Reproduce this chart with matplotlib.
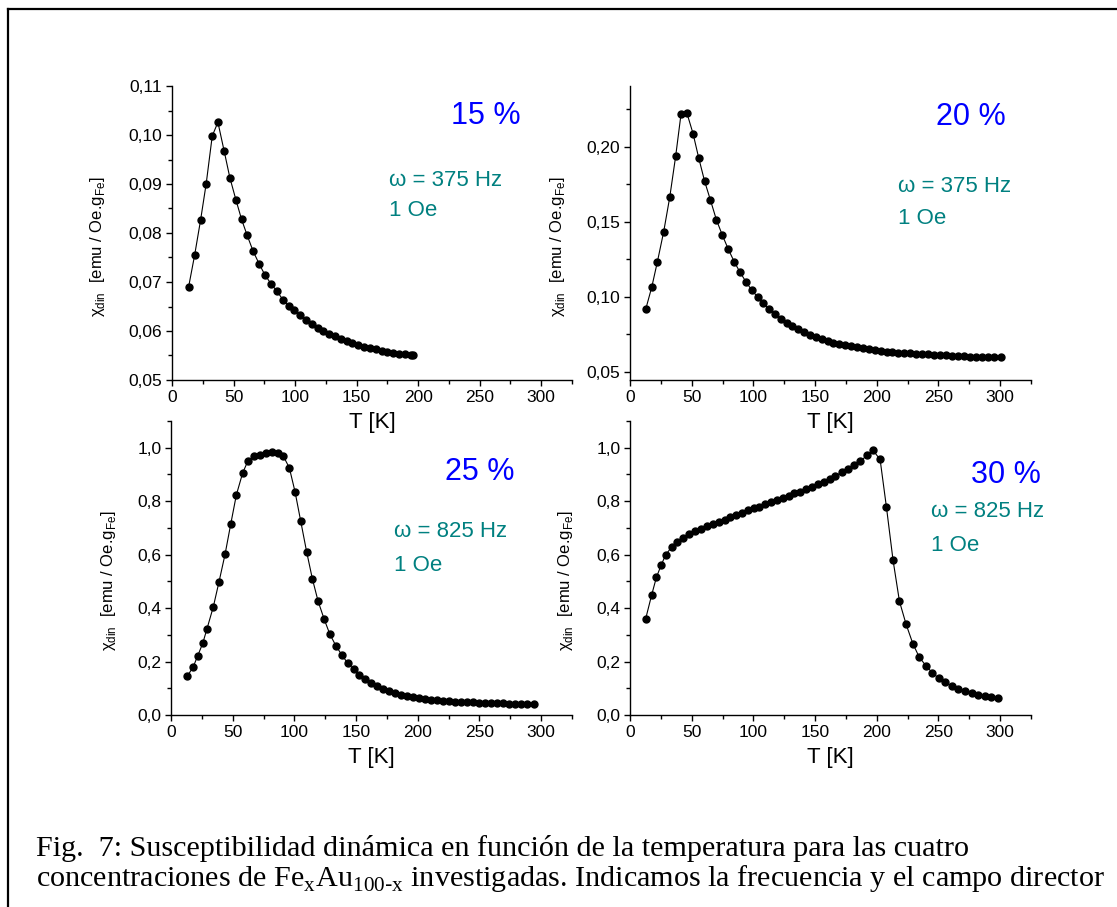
import matplotlib
matplotlib.use('Agg')
import matplotlib.pyplot as plt
from matplotlib.ticker import MultipleLocator, FuncFormatter
from matplotlib.lines import Line2D

plt.rcParams['font.family'] = ['Liberation Sans', 'DejaVu Sans']

# 15 % Fe
t15 = [13.5, 18.4, 23.2, 27.8, 32.7, 37.3, 42.4, 47.0, 51.9, 56.5, 61.1, 65.9, 70.8, 75.4,
       80.5, 85.4, 90.0, 94.9, 99.5, 104.0, 109.0, 113.5, 118.4, 123.0, 127.6, 132.4, 137.3,
       141.9, 146.5, 151.4, 156.0, 160.8, 165.7, 170.3, 175.0, 179.7, 184.6, 189.2, 193.8, 196.2]
chi15 = [0.0690, 0.0755, 0.0826, 0.0901, 0.0998, 0.1026, 0.0967, 0.0913, 0.0868, 0.0828,
         0.0795, 0.0763, 0.0737, 0.0715, 0.0696, 0.0681, 0.0664, 0.0651, 0.0642, 0.0632,
         0.0623, 0.0615, 0.0606, 0.0600, 0.0594, 0.0589, 0.0584, 0.0580, 0.0575, 0.0572,
         0.0568, 0.0565, 0.0563, 0.0560, 0.0558, 0.0556, 0.0554, 0.0553, 0.0552, 0.0551]

# 20 % Fe
t20 = [12.7, 17.6, 22.2, 27.3, 32.2, 37.0, 41.4, 46.2, 51.1, 55.7, 60.5, 65.1, 70.0, 74.9,
       79.7, 84.6, 89.2, 94.1, 98.6, 103.5, 108.1, 112.7, 117.6, 122.2, 127.0, 131.6, 136.5,
       141.1, 145.9, 150.5, 155.4, 160.3, 164.9, 169.7, 174.6, 179.2, 184.0, 188.9, 193.8,
       198.6, 203.2, 208.1, 212.7, 217.6, 222.2, 227.0, 231.9, 236.8, 241.6, 246.5, 251.4,
       256.2, 261.1, 265.7, 270.5, 275.4, 280.3, 285.1, 290.0, 294.9, 300.5]
chi20 = [0.0917, 0.1064, 0.1234, 0.1434, 0.1663, 0.1936, 0.2220, 0.2222, 0.2087, 0.1925,
         0.1769, 0.1647, 0.1514, 0.1410, 0.1317, 0.1232, 0.1164, 0.1099, 0.1046, 0.0999,
         0.0957, 0.0917, 0.0886, 0.0855, 0.0829, 0.0804, 0.0784, 0.0764, 0.0746, 0.0731,
         0.0718, 0.0706, 0.0695, 0.0686, 0.0678, 0.0671, 0.0664, 0.0658, 0.0651, 0.0647,
         0.0642, 0.0635, 0.0633, 0.0629, 0.0627, 0.0624, 0.0622, 0.0620, 0.0618, 0.0615,
         0.0613, 0.0611, 0.0609, 0.0607, 0.0604, 0.0602, 0.0602, 0.0600, 0.0598, 0.0598, 0.0598]

# 25 % Fe
t25 = [13.2, 18.1, 21.6, 25.7, 29.2, 34.3, 38.9, 43.8, 48.4, 53.0, 58.1, 62.4, 67.3, 72.4,
       77.3, 81.9, 86.5, 91.1, 95.9, 100.5, 105.1, 110.0, 114.6, 119.2, 124.1, 128.6, 133.5,
       138.4, 143.2, 148.1, 152.7, 157.6, 162.4, 167.3, 172.2, 177.0, 181.9, 186.8, 191.6,
       196.5, 201.4, 206.2, 211.1, 215.9, 220.8, 225.4, 230.3, 235.1, 240.0, 244.9, 249.7,
       254.6, 259.5, 264.3, 269.2, 274.1, 278.9, 283.8, 288.6, 293.8]
chi25 = [0.145, 0.181, 0.221, 0.268, 0.323, 0.405, 0.498, 0.601, 0.714, 0.824, 0.906, 0.951,
         0.970, 0.974, 0.979, 0.983, 0.980, 0.968, 0.925, 0.836, 0.726, 0.609, 0.509, 0.426,
         0.359, 0.304, 0.260, 0.225, 0.194, 0.171, 0.151, 0.135, 0.120, 0.109, 0.099, 0.090,
         0.0825, 0.076, 0.071, 0.066, 0.064, 0.060, 0.0575, 0.055, 0.0525, 0.051, 0.050,
         0.049, 0.0475, 0.0475, 0.046, 0.045, 0.045, 0.044, 0.044, 0.0425, 0.0425, 0.041,
         0.041, 0.041]

# 30 % Fe
t30 = [12.7, 17.6, 21.4, 25.4, 28.9, 33.8, 38.4, 43.2, 47.8, 52.7, 57.6, 62.4, 67.0, 71.9,
       76.8, 81.4, 86.0, 90.8, 95.4, 100.3, 104.9, 109.7, 114.3, 119.2, 123.8, 128.6, 133.2,
       137.8, 142.7, 147.6, 152.2, 157.0, 161.9, 166.5, 171.6, 176.5, 181.6, 186.8, 192.2,
       197.0, 202.7, 207.8, 213.2, 218.4, 223.8, 229.2, 234.3, 239.7, 245.1, 250.3, 255.7,
       261.1, 266.2, 271.6, 277.0, 282.2, 287.6, 292.7, 298.1]
chi30 = [0.360, 0.450, 0.515, 0.5625, 0.599, 0.629, 0.649, 0.664, 0.6775, 0.689, 0.6975,
         0.706, 0.714, 0.7225, 0.731, 0.741, 0.749, 0.7575, 0.766, 0.774, 0.780, 0.789,
         0.796, 0.804, 0.811, 0.820, 0.829, 0.836, 0.845, 0.854, 0.8625, 0.8725, 0.884,
         0.895, 0.9075, 0.921, 0.935, 0.951, 0.971, 0.990, 0.956, 0.779, 0.579, 0.425,
         0.339, 0.2675, 0.2175, 0.185, 0.1575, 0.1375, 0.1225, 0.1075, 0.0975, 0.089,
         0.081, 0.075, 0.070, 0.066, 0.064]

conc_labels = ['15 %', '20 %', '25 %', '30 %']
freq_labels = ['\u03c9 = 375 Hz', '\u03c9 = 375 Hz', '\u03c9 = 825 Hz', '\u03c9 = 825 Hz']
field_label = '1 Oe'

W, H = 1117, 907
fig = plt.figure(figsize=(W / 100, H / 100), dpi=100)

# axes boxes in pixels: left, top, right, bottom
boxes = [(172, 86, 572, 380), (630, 86, 1031, 380),
         (171, 421, 572, 715), (630, 421, 1031, 715)]
ylims = [(0.05, 0.11), (0.0447, 0.2404), (0.0, 1.1), (0.0, 1.1)]
ymaj = [0.01, 0.05, 0.2, 0.2]
ydec = [2, 2, 1, 1]
# text placements (axes fraction)
conc_pos = [(0.784, 0.898), (0.850, 0.896), (0.771, 0.828), (0.938, 0.816)]
freq_pos = [(0.542, 0.680), (0.668, 0.657), (0.556, 0.624), (0.751, 0.691)]
oe_pos = [(0.542, 0.576), (0.668, 0.548), (0.556, 0.510), (0.751, 0.578)]
ylab_pos = [(-0.186, 0.453), (-0.182, 0.453), (-0.155, 0.456), (-0.162, 0.457)]

temps = [t15, t20, t25, t30]
chis = [chi15, chi20, chi25, chi30]

for i in range(4):
    l, t, r, b = boxes[i]
    ax = fig.add_axes([l / W, 1 - b / H, (r - l) / W, (b - t) / H])
    ax.patch.set_visible(False)
    ax.plot(temps[i], chis[i], '-o', color='black', lw=0.8, ms=5)
    ax.set_xlim(0, 325)
    ax.set_ylim(*ylims[i])
    for s in ['top', 'right']:
        ax.spines[s].set_visible(False)
    for s in ['left', 'bottom']:
        ax.spines[s].set_linewidth(1.0)
    ax.xaxis.set_major_locator(MultipleLocator(50))
    ax.xaxis.set_minor_locator(MultipleLocator(25))
    ax.yaxis.set_major_locator(MultipleLocator(ymaj[i]))
    ax.yaxis.set_minor_locator(MultipleLocator(ymaj[i] / 2))
    d = ydec[i]
    ax.yaxis.set_major_formatter(FuncFormatter(lambda v, p, d=d: f'{v:.{d}f}'.replace('.', ',')))
    ax.tick_params(which='major', length=4, width=1.0, labelsize=12.5, pad=3)
    ax.tick_params(which='minor', length=3, width=1.0)
    ax.set_xlabel('T [K]', fontsize=16)
    ax.xaxis.set_label_coords(0.5, -0.143)
    ax.xaxis.label.set_va('center')
    ax.set_ylabel('\u03c7$_\\mathregular{din}$  [emu / Oe.g$_\\mathregular{Fe}$]', fontsize=12)
    ax.yaxis.set_label_coords(*ylab_pos[i])
    ax.yaxis.label.set_va('center')
    ax.text(*conc_pos[i], conc_labels[i], transform=ax.transAxes, color='#0000ff',
            fontsize=22, ha='center', va='center')
    ax.text(*freq_pos[i], freq_labels[i], transform=ax.transAxes, color='#008080',
            fontsize=16, ha='left', va='center')
    ax.text(*oe_pos[i], field_label, transform=ax.transAxes, color='#008080',
            fontsize=16, ha='left', va='center')

# frame around the figure (only left and top edges visible)
fig.add_artist(Line2D([8 / W, 8 / W], [0, 1 - 9 / H], color='black', lw=1.6))
fig.add_artist(Line2D([8 / W, 1], [1 - 9 / H, 1 - 9 / H], color='black', lw=1.6))

cap_font = ['Liberation Serif', 'DejaVu Serif']
fig.text(36 / W, 1 - 848 / H,
         'Fig.  7: Susceptibilidad din\u00e1mica en funci\u00f3n de la temperatura para las cuatro',
         family=cap_font, fontsize=21.7, va='center', ha='left')
fig.text(36 / W, 1 - 879 / H,
         'concentraciones de Fe$_\\mathregular{x}$Au$_\\mathregular{100\\text{-}x}$ investigadas. '
         'Indicamos la frecuencia y el campo director',
         family=cap_font, fontsize=21.7, va='center', ha='left')

fig.savefig('out.png', dpi=100)
